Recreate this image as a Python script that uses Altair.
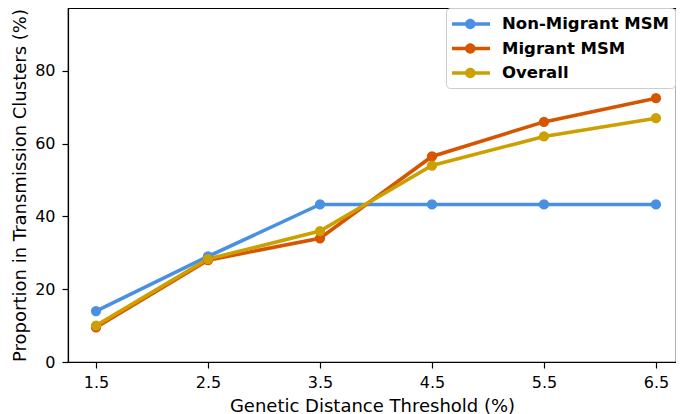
import altair as alt
import pandas as pd

thresholds = [1.5, 2.5, 3.5, 4.5, 5.5, 6.5]
non_migrant = [14, 29, 43.3, 43.3, 43.3, 43.3]
migrant = [9.5, 28, 34, 56.5, 66, 72.5]
overall = [10, 28.3, 36, 54, 62, 67]
series_names = ["Non-Migrant MSM", "Migrant MSM", "Overall"]
series_colors = ["#4a90e2", "#d65500", "#cca000"]
y_ticks = [0, 20, 40, 60, 80, 100]

rows = []
for order, (name, vals) in enumerate(zip(series_names, [non_migrant, migrant, overall])):
    for t, v in zip(thresholds, vals):
        rows.append({"threshold": t, "value": v, "group": name, "order": order})
df = pd.DataFrame(rows)

FONT = "DejaVu Sans"
color_scale = alt.Scale(domain=series_names, range=series_colors)

x_enc = alt.X(
    "threshold:Q",
    scale=alt.Scale(domain=[1.25, 6.679], nice=False, zero=False),
    axis=alt.Axis(values=thresholds, format=".1f", title="Genetic Distance Threshold (%)",
                  labelPadding=6, titlePadding=7),
)
y_enc = alt.Y(
    "value:Q",
    scale=alt.Scale(domain=[0, 97.3], nice=False),
    axis=alt.Axis(values=y_ticks, title="Proportion in Transmission Clusters (%)",
                  labelPadding=7, titlePadding=5),
)

legend_path = ("M-1,-0.18H2.8V0.18H-1Z "
               "M0.31,0A0.52,0.52 0 1,1 1.35,0A0.52,0.52 0 1,1 0.31,0Z")

legend = alt.Legend(
    title=None, orient="none", legendX=378, legendY=0,
    symbolType=legend_path, symbolSize=400, symbolStrokeWidth=0,
    symbolOpacity=1,
    labelFont=FONT, labelFontSize=16.5, labelFontWeight="bold", labelColor="black",
    labelOffset=30, labelLimit=300, rowPadding=5.5, padding=6,
    strokeColor="#cccccc", fillColor="white", cornerRadius=4,
)

lines = alt.Chart(df).mark_line(strokeWidth=3.6).encode(
    x=x_enc, y=y_enc,
    color=alt.Color("group:N", scale=color_scale, legend=legend),
    order="order:Q",
)
points = alt.Chart(df).mark_point(filled=True, size=105, opacity=1).encode(
    x=x_enc, y=y_enc,
    color=alt.Color("group:N", scale=color_scale, legend=legend),
    order="order:Q",
)

chart = alt.layer(lines, points).properties(
    width=608, height=354,
    autosize=alt.AutoSizeParams(type="none"),
    padding={"left": 60, "top": 0, "right": 0, "bottom": 52},
).configure_view(
    stroke="black", strokeWidth=1.2
).configure_axis(
    grid=False, domainColor="black", domainWidth=1.2, tickColor="black", tickWidth=1.2,
    tickSize=6, labelFont=FONT, labelFontSize=16, labelColor="black",
    titleFont=FONT, titleFontSize=18, titleFontWeight="normal", titleColor="black",
)

chart.save("out.html", embed_options={"renderer": "svg", "actions": False})
